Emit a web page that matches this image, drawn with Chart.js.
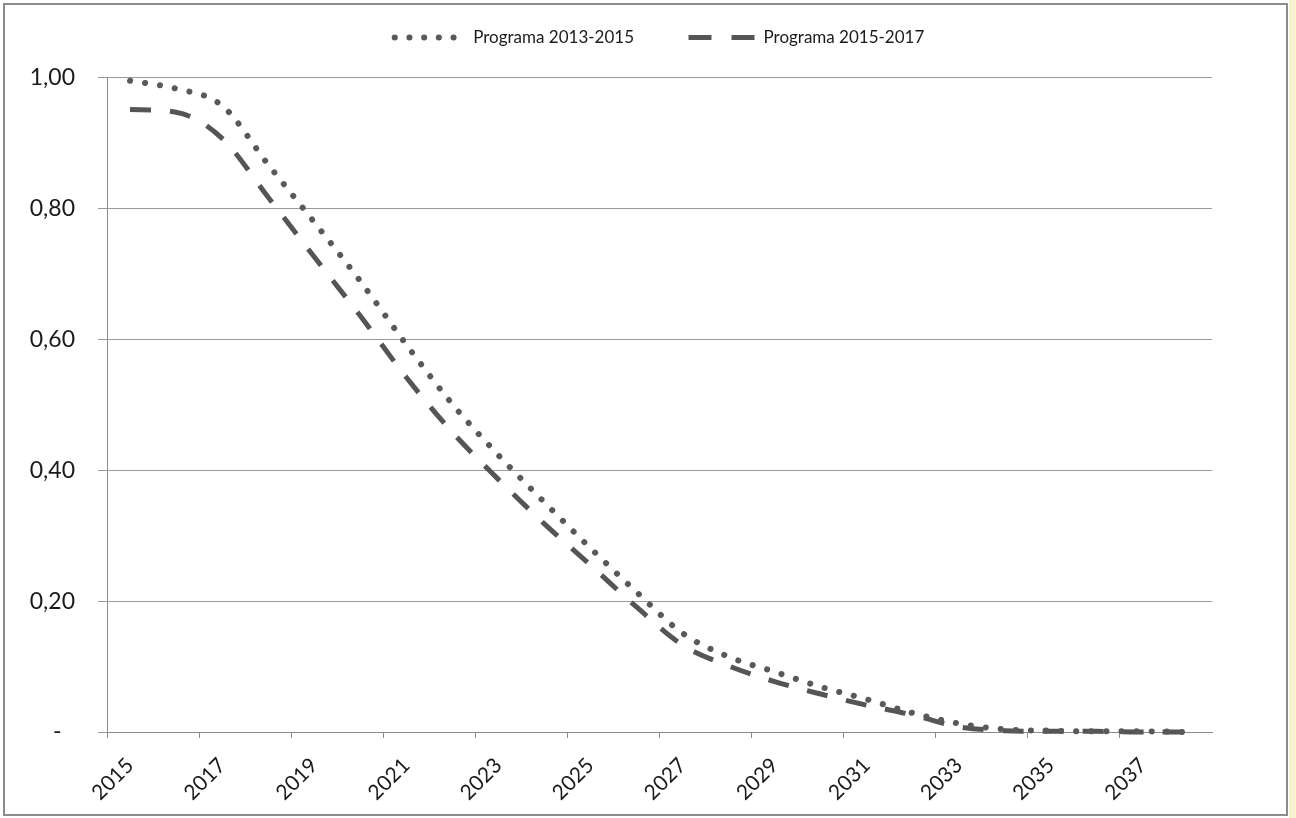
<!DOCTYPE html>
<html>
<head>
<meta charset="utf-8">
<script src="https://cdn.jsdelivr.net/npm/chart.js@4.4.0/dist/chart.umd.min.js"></script>
<style>
  html, body { margin: 0; padding: 0; background: #ffffff; }
  #wrap { position: relative; width: 1296px; height: 818px; }
  canvas { display: block; }
</style>
</head>
<body>
<div id="wrap"><canvas id="chart" width="1296" height="818"></canvas></div>
<script>
// Years on the category axis
const years = ['2015','2016','2017','2018','2019','2020','2021','2022','2023','2024','2025','2026',
               '2027','2028','2029','2030','2031','2032','2033','2034','2035','2036','2037','2038'];

// Programa 2013-2015 (dotted)
const programa20132015 = [0.995, 0.983, 0.957, 0.867, 0.779, 0.689, 0.592, 0.501, 0.423, 0.351, 0.281, 0.214,
                          0.151, 0.115, 0.092, 0.069, 0.050, 0.029, 0.013, 0.004, 0.002, 0.001, 0.001, 0.000];

// Programa 2015-2017 (dashed)
const programa20152017 = [0.951, 0.947, 0.907, 0.817, 0.726, 0.636, 0.542, 0.458, 0.386, 0.318, 0.255, 0.191,
                          0.133, 0.101, 0.077, 0.058, 0.041, 0.026, 0.008, 0.002, 0.001, 0.001, 0.000, 0.000];

// Value axis ticks
const yTickValues = [0, 0.2, 0.4, 0.6, 0.8, 1.0];

const FONT = 'Lato, "Open Sans", "Liberation Sans", sans-serif';
const PLOT_LEFT = 107;
const PLOT_BOTTOM = 732;

// Line samples shown in the legend
const legendSamples = [
  { lineDash: [0.1, 14.6], lineDashOffset: 0, lineCap: 'round', lineWidth: 6, strokeStyle: '#595959' },
  { lineDash: [23, 20], lineDashOffset: 39.5, lineCap: 'butt', lineWidth: 5, strokeStyle: '#555555' }
];

// Frame around the whole figure plus the pale strip at the right edge
const framePlugin = {
  id: 'frame',
  beforeDraw(chart) {
    const ctx = chart.ctx;
    ctx.save();
    ctx.fillStyle = '#ffffff';
    ctx.fillRect(0, 0, chart.width, chart.height);
    ctx.fillStyle = '#f6f1cf';
    ctx.fillRect(1289, 0, 7, chart.height);
    ctx.strokeStyle = '#8c8c8c';
    ctx.lineWidth = 2;
    ctx.strokeRect(4, 4, 1283, 811);
    ctx.restore();
  }
};

new Chart(document.getElementById('chart'), {
  type: 'line',
  data: {
    labels: years,
    datasets: [
      {
        label: 'Programa 2013-2015',
        data: programa20132015,
        borderColor: '#595959',
        backgroundColor: '#595959',
        borderWidth: 6,
        borderDash: [0.1, 15],
        borderCapStyle: 'round',
        pointRadius: 0,
        fill: false,
        cubicInterpolationMode: 'monotone',
        clip: 10
      },
      {
        label: 'Programa 2015-2017',
        data: programa20152017,
        borderColor: '#555555',
        backgroundColor: '#555555',
        borderWidth: 5,
        borderDash: [21, 19],
        borderCapStyle: 'butt',
        pointRadius: 0,
        fill: false,
        cubicInterpolationMode: 'monotone',
        clip: 10
      }
    ]
  },
  options: {
    responsive: false,
    animation: false,
    devicePixelRatio: 1,
    layout: { padding: { top: -22, right: 84, left: 0, bottom: 0 } },
    plugins: {
      legend: {
        position: 'top',
        align: 'center',
        fullSize: false,
        labels: {
          usePointStyle: true,
          pointStyle: 'line',
          pointStyleWidth: 70,
          boxHeight: 17,
          padding: 51,
          color: '#1a1a1a',
          font: { family: FONT, size: 17 },
          generateLabels(chart) {
            const items = Chart.defaults.plugins.legend.labels.generateLabels(chart);
            items.forEach((item, i) => Object.assign(item, legendSamples[i], { pointStyle: 'line' }));
            return items;
          }
        }
      },
      // empty title used only as vertical spacing between legend and plot
      title: {
        display: true,
        text: '',
        weight: 500,
        fullSize: false,
        font: { size: 1, lineHeight: 1 },
        padding: { top: 0, bottom: 20.5 }
      },
      tooltip: { enabled: false }
    },
    scales: {
      x: {
        type: 'category',
        offset: true,
        border: { display: true, color: '#8c8c8c', width: 1 },
        grid: {
          offset: true,
          drawOnChartArea: false,
          drawTicks: true,
          tickLength: 6,
          color: ctx => (ctx.index % 2 === 0 ? '#8c8c8c' : 'rgba(0,0,0,0)')
        },
        ticks: {
          autoSkip: false,
          minRotation: 45,
          maxRotation: 45,
          padding: 15,
          color: '#1a1a1a',
          font: { family: FONT, size: 21 },
          callback(value, index) { return index % 2 === 0 ? this.getLabelForValue(value) : ''; }
        },
        afterFit(scale) { scale.height = 818 - PLOT_BOTTOM; }
      },
      y: {
        min: 0,
        max: 1,
        border: { display: true, color: '#8c8c8c', width: 1 },
        grid: {
          color: '#9a9a9a',
          lineWidth: 1,
          drawTicks: true,
          tickLength: 9
        },
        afterBuildTicks(scale) { scale.ticks = yTickValues.map(v => ({ value: v })); },
        ticks: {
          padding: 23,
          color: '#1a1a1a',
          font: { family: FONT, size: 23 },
          callback(v) { return v === 0 ? '-\u2007' : v.toFixed(2).replace('.', ','); }
        },
        afterFit(scale) { scale.width = PLOT_LEFT; }
      }
    }
  },
  plugins: [framePlugin]
});
</script>
</body>
</html>
